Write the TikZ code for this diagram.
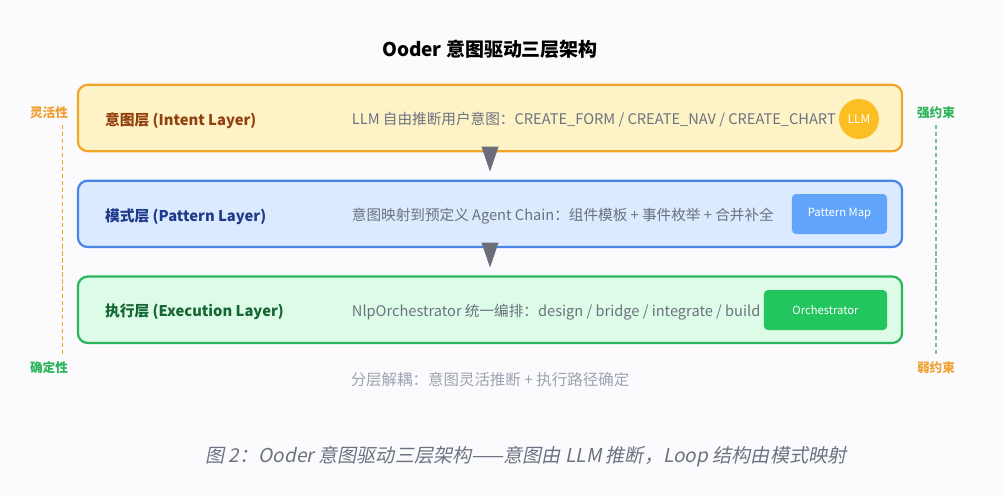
\documentclass[tikz,border=0pt]{standalone}
\usepackage{fontspec}
\setmainfont{Noto Sans CJK SC}
\newfontfamily\capfont[FakeSlant=0.2]{Noto Sans CJK SC}
\usetikzlibrary{arrows.meta,positioning}
\definecolor{pagebg}{HTML}{FBFBFD}
\definecolor{intentline}{HTML}{F2A52B}
\definecolor{intentfill}{HTML}{FEF3C7}
\definecolor{intenttext}{HTML}{92400E}
\definecolor{patternline}{HTML}{4A86E8}
\definecolor{patternfill}{HTML}{DBEAFE}
\definecolor{patterntext}{HTML}{1E3A8A}
\definecolor{execline}{HTML}{2BB55C}
\definecolor{execfill}{HTML}{DCFCE7}
\definecolor{exectext}{HTML}{166534}
\definecolor{descgrey}{HTML}{6B7280}
\definecolor{llmamber}{HTML}{FBBF24}
\definecolor{mapblue}{HTML}{60A5FA}
\definecolor{orchgreen}{HTML}{22C55E}
\definecolor{arrowgrey}{HTML}{6B6E7A}
\definecolor{flexorange}{HTML}{F0A030}
\definecolor{fixgreen}{HTML}{2DB35C}
\definecolor{guideteal}{HTML}{7FB9A2}
\definecolor{notegrey}{HTML}{9CA3AF}

\begin{document}
\begin{tikzpicture}[
  x=0.025cm,y=-0.025cm,
  layer/.style={draw,line width=1.6pt,rounded corners=7pt,minimum width=20.6cm,
    minimum height=1.66cm,inner sep=0pt},
  tag/.style={anchor=west,inner sep=0pt,font=\bfseries\fontsize{10.5}{13}\selectfont},
  desc/.style={anchor=west,inner sep=0pt,text=descgrey,font=\fontsize{10.4}{12}\selectfont},
  badge/.style={rounded corners=3pt,text=white,minimum height=1cm,inner sep=0pt,
    font=\fontsize{8}{10}\selectfont},
  flow/.style={-{Triangle[length=0.62cm,width=0.42cm]},draw=arrowgrey,fill=arrowgrey,line width=0.6pt},
  side/.style={font=\bfseries\fontsize{9}{11}\selectfont,inner sep=1pt},
  guide/.style={dashed,line width=0.8pt,dash pattern=on 3pt off 2pt}
]
\fill[pagebg] (0,0) rectangle (1004,496);
\node[font=\bfseries\fontsize{13.5}{16}\selectfont] (title) at (490,49) {Ooder 意图驱动三层架构};
% three layers
\node[layer,draw=intentline,fill=intentfill] (intent) at (490,118) {};
\node[layer,draw=patternline,fill=patternfill,below=0.68cm of intent] (pattern) {};
\node[layer,draw=execline,fill=execfill,below=0.68cm of pattern] (exec) {};
\node[tag,text=intenttext] (intentname) at ([xshift=0.7cm,yshift=-0.06cm]intent.west) {意图层 (Intent Layer)};
\node[tag,text=patterntext] (patternname) at ([xshift=0.7cm,yshift=-0.06cm]pattern.west) {模式层 (Pattern Layer)};
\node[tag,text=exectext] (execname) at ([xshift=0.7cm,yshift=-0.06cm]exec.west) {执行层 (Execution Layer)};
\node[desc] (intentdesc) at ([xshift=6.87cm,yshift=-0.05cm]intent.west) {LLM 自由推断用户意图：CREATE\_FORM / CREATE\_NAV / CREATE\_CHART};
\node[desc] (patterndesc) at ([xshift=6.87cm,yshift=-0.05cm]pattern.west) {意图映射到预定义 Agent Chain：组件模板 + 事件枚举 + 合并补全};
\node[desc] (execdesc) at ([xshift=6.87cm,yshift=-0.05cm]exec.west) {NlpOrchestrator 统一编排：design / bridge / integrate / build};
% badges
\node[circle,fill=llmamber,text=white,minimum size=1cm,inner sep=0pt,
  font=\fontsize{8.5}{10}\selectfont] (llm) at (859,119) {LLM};
\node[badge,fill=mapblue,minimum width=2.38cm] (map) at (839.5,214) {Pattern Map};
\node[badge,fill=orchgreen,minimum width=3.08cm] (orch) at (825.5,310) {Orchestrator};
% arrows between layers
\draw[flow] ([yshift=0.12cm]intent.south) -- ([yshift=0.2cm]pattern.north);
\draw[flow] ([yshift=0.12cm]pattern.south) -- ([yshift=0.2cm]exec.north);
% side guides
\node[side,text=flexorange] (flex) at (49,113) {灵活性};
\node[side,text=fixgreen] (fixed) at (49,368) {确定性};
\node[side,text=fixgreen] (strong) at (936,113) {强约束};
\node[side,text=flexorange] (weak) at (936,368) {弱约束};
\draw[guide,flexorange] ([xshift=0.33cm,yshift=-0.1cm]flex.south) -- ([xshift=0.33cm,yshift=0.1cm]fixed.north);
\draw[guide,guideteal] ([yshift=-0.1cm]strong.south) -- ([yshift=0.1cm]weak.north);
% notes
\node[text=notegrey,font=\fontsize{11}{13}\selectfont] (note) at (490,380) {分层解耦：意图灵活推断 + 执行路径确定};
\node[text=descgrey,font=\capfont\fontsize{13.6}{15}\selectfont] (caption) at (526,457) {图 2：Ooder 意图驱动三层架构——意图由 LLM 推断，Loop 结构由模式映射};
\end{tikzpicture}
\end{document}
